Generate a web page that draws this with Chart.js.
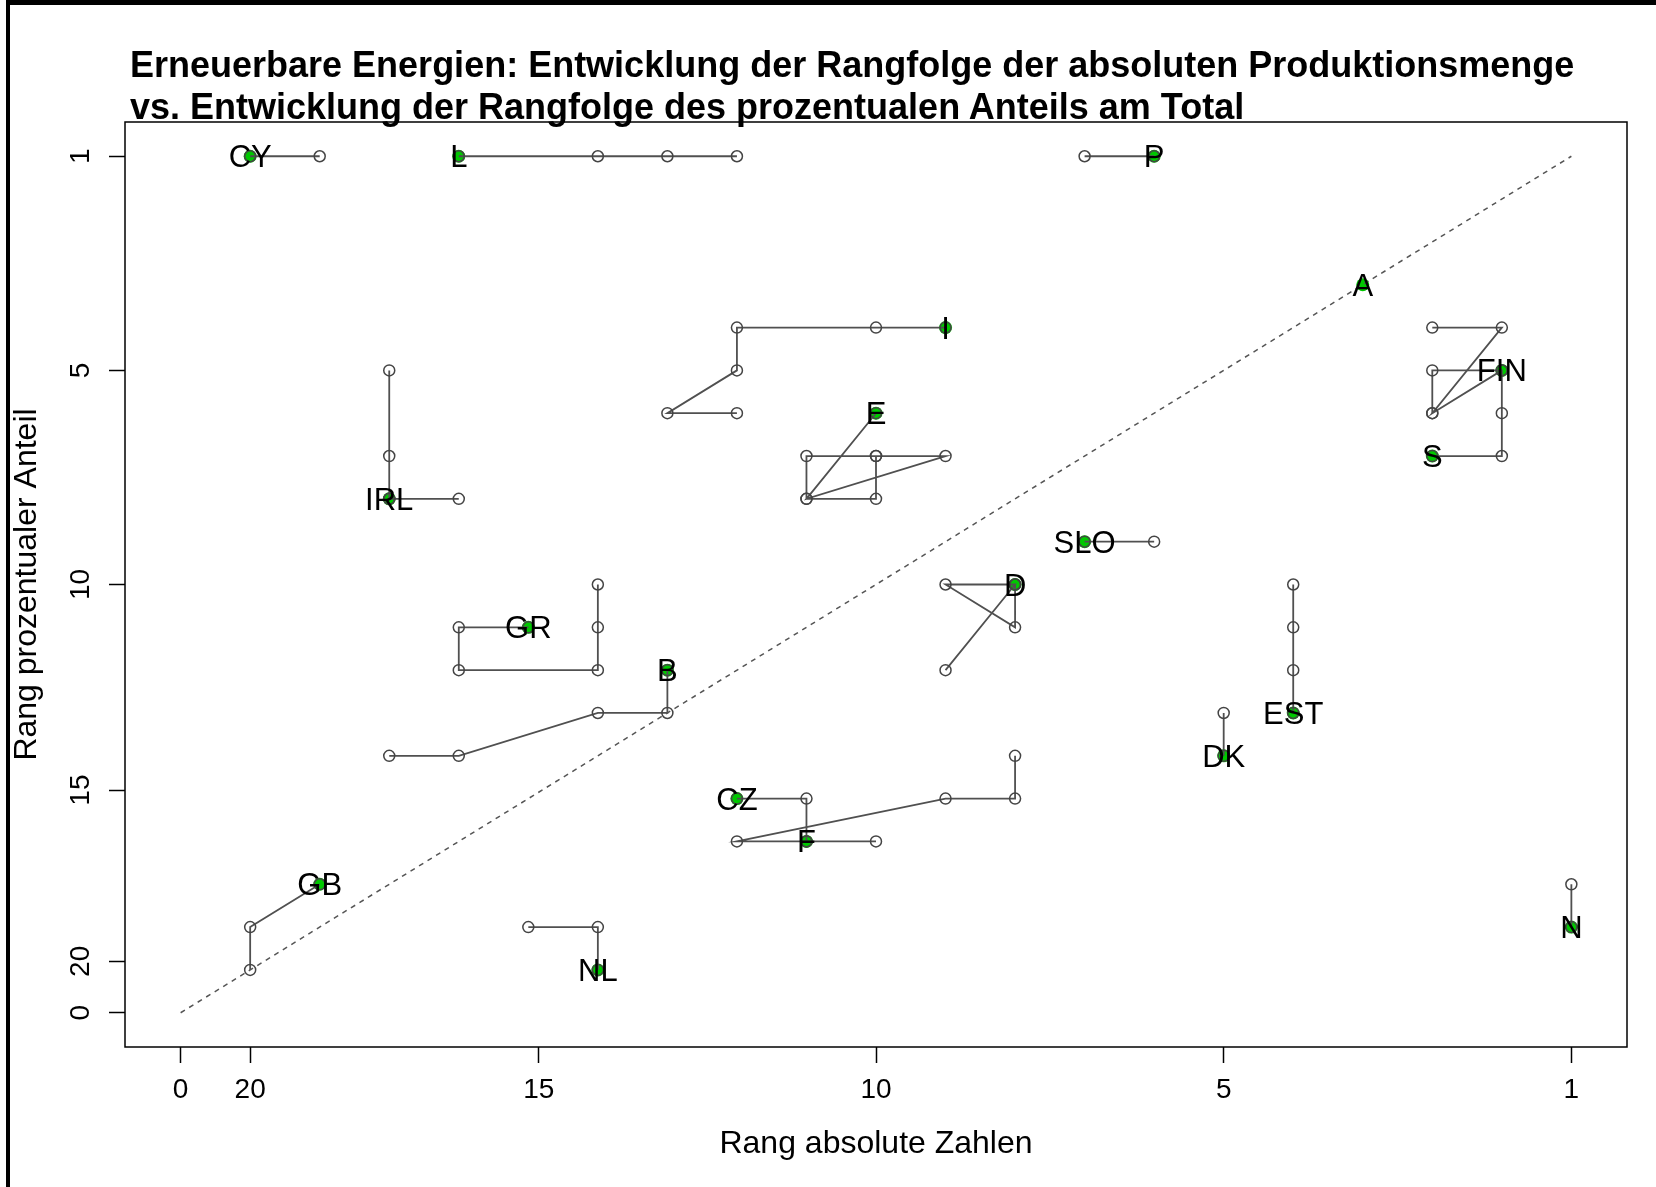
<!DOCTYPE html>
<html>
<head>
<meta charset="utf-8">
<script src="https://cdn.jsdelivr.net/npm/chart.js@4.4.1/dist/chart.umd.min.js"></script>
<style>
  html, body { margin: 0; padding: 0; background: #fff; }
  #wrap { position: relative; width: 1656px; height: 1187px; overflow: hidden; }
  #frame { position: absolute; left: 6px; top: 0; width: 1650px; height: 1187px;
           border-top: 5px solid #000; border-left: 4px solid #000; box-sizing: border-box; }
  #title { position: absolute; left: 130px; top: 44px; font: bold 36px "Liberation Sans", Arial, sans-serif;
           line-height: 42px; color: #000; white-space: nowrap; }
  canvas { position: absolute; left: 0; top: 0; }
</style>
</head>
<body>
<div id="wrap">
  <div id="frame"></div>
  <canvas id="chart" width="1656" height="1187"></canvas>
  <div id="title">Erneuerbare Energien: Entwicklung der Rangfolge der absoluten Produktionsmenge<br>vs. Entwicklung der Rangfolge des prozentualen Anteils am Total</div>
</div>
<script>
// axis ticks (position on the axis and the label printed there)
const xTickPos = [0, 1, 5.15, 10, 15, 20];
const xTickText = ['0', '20', '15', '10', '5', '1'];
const yTickPos = [0, 1.2, 5.2, 10, 15, 20];
const yTickText = ['0', '20', '15', '10', '5', '1'];

const countries = ['CY', 'L', 'P', 'A', 'I', 'FIN', 'S', 'E', 'IRL', 'SLO', 'D', 'GR', 'B', 'EST', 'DK', 'CZ', 'F', 'GB', 'NL', 'N'];

// path of each country over the years, last entry = latest year (green)
const absPos = {
    CY: [2, 1], L: [8, 7, 6, 4], P: [13, 14], A: [17],
    I: [8, 7, 8, 8, 10, 11], FIN: [18, 19, 18, 19], S: [18, 18, 19, 19, 19, 18],
    E: [10, 10, 9, 9, 10, 11, 9, 10], IRL: [3, 3, 3, 4, 3], SLO: [14, 13],
    D: [11, 12, 11, 12, 12], GR: [6, 6, 6, 4, 4, 5], B: [3, 4, 6, 7, 7],
    EST: [16, 16, 16, 16], DK: [15, 15], CZ: [9, 9, 8], F: [12, 12, 11, 8, 10, 9],
    GB: [1, 1, 2], NL: [5, 6, 6], N: [20, 20]
};
const pctPos = {
    CY: [20, 20], L: [20, 20, 20, 20], P: [20, 20], A: [17],
    I: [14, 14, 15, 16, 16, 16], FIN: [16, 16, 14, 15], S: [14, 15, 15, 14, 13, 13],
    E: [13, 12, 12, 13, 13, 13, 12, 14], IRL: [15, 13, 12, 12, 12], SLO: [11, 11],
    D: [8, 10, 10, 9, 10], GR: [10, 9, 8, 8, 9, 9], B: [6, 6, 7, 7, 8],
    EST: [10, 9, 8, 7], DK: [7, 6], CZ: [4, 5, 5], F: [6, 5, 5, 4, 4, 4],
    GB: [1, 2, 3], NL: [2, 2, 1], N: [3, 2]
};

const diagX = [0, 20];
const diagY = [0, 20];

const LINE = '#505050';
const GREEN = '#00c800';
const FONT = '"Liberation Sans", Arial, sans-serif';

const datasets = [];

datasets.push({
    data: diagX.map((x, i) => ({ x: x, y: diagY[i] })),
    showLine: true,
    borderColor: '#555',
    borderWidth: 1.5,
    borderDash: [5, 5],
    pointRadius: 0
});

countries.forEach(c => {
    const pts = absPos[c].map((x, i) => ({ x: x, y: pctPos[c][i] }));
    if (pts.length < 2) return;
    datasets.push({
        data: pts,
        showLine: true,
        borderColor: LINE,
        borderWidth: 1.8,
        pointRadius: 5.5,
        pointBorderWidth: 1.5,
        pointBorderColor: '#444',
        pointBackgroundColor: 'rgba(0,0,0,0)'
    });
});

// latest year
datasets.push({
    data: countries.map(c => {
        const n = absPos[c].length - 1;
        return { x: absPos[c][n], y: pctPos[c][n] };
    }),
    showLine: false,
    pointRadius: 6.5,
    pointBorderWidth: 0,
    pointBackgroundColor: GREEN
});

const countryLabels = {
    id: 'countryLabels',
    afterDatasetsDraw(chart) {
        const { ctx, scales } = chart;
        ctx.save();
        ctx.font = '31px ' + FONT;
        ctx.fillStyle = '#000';
        ctx.textAlign = 'center';
        ctx.textBaseline = 'alphabetic';
        countries.forEach(c => {
            const n = absPos[c].length - 1;
            const px = scales.x.getPixelForValue(absPos[c][n]);
            const py = scales.y.getPixelForValue(pctPos[c][n]);
            ctx.fillText(c, px, py + 11);
        });
        ctx.restore();
    }
};

const plotBox = {
    id: 'plotBox',
    afterDraw(chart) {
        const a = chart.chartArea;
        const ctx = chart.ctx;
        ctx.save();
        ctx.strokeStyle = '#000';
        ctx.lineWidth = 1.5;
        ctx.strokeRect(a.left, a.top, a.right - a.left, a.bottom - a.top);
        ctx.restore();
    }
};

new Chart(document.getElementById('chart'), {
    type: 'scatter',
    data: { datasets: datasets },
    options: {
        responsive: false,
        animation: false,
        events: [],
        layout: { padding: { left: 0, right: 29, top: 122, bottom: 0 } },
        plugins: { legend: { display: false }, tooltip: { enabled: false } },
        scales: {
            x: {
                type: 'linear', min: -0.8, max: 20.8,
                afterBuildTicks: s => { s.ticks = xTickPos.map(v => ({ value: v })); },
                afterFit: s => { s.height = 140; },
                border: { display: false },
                grid: { drawOnChartArea: false, drawTicks: true, tickLength: 16, tickColor: '#000', tickWidth: 1.5 },
                ticks: {
                    color: '#000', font: { family: FONT, size: 28 }, padding: 10,
                    maxRotation: 0, autoSkip: false,
                    callback: v => xTickText[xTickPos.indexOf(v)]
                },
                title: { display: true, text: 'Rang absolute Zahlen', color: '#000',
                         font: { family: FONT, size: 32 }, padding: { top: 0, bottom: 24 } }
            },
            y: {
                type: 'linear', min: -0.8, max: 20.8,
                afterBuildTicks: s => { s.ticks = yTickPos.map(v => ({ value: v })); },
                afterFit: s => { s.width = 125; },
                border: { display: false },
                grid: { drawOnChartArea: false, drawTicks: true, tickLength: 16, tickColor: '#000', tickWidth: 1.5 },
                ticks: {
                    color: '#000', font: { family: FONT, size: 28 }, padding: 12,
                    minRotation: 90, maxRotation: 90, crossAlign: 'center', autoSkip: false,
                    callback: v => yTickText[yTickPos.indexOf(v)]
                },
                title: { display: true, text: 'Rang prozentualer Anteil', color: '#000',
                         font: { family: FONT, size: 32 }, padding: { top: 8, bottom: 0 } }
            }
        }
    },
    plugins: [countryLabels, plotBox]
});
</script>
</body>
</html>
